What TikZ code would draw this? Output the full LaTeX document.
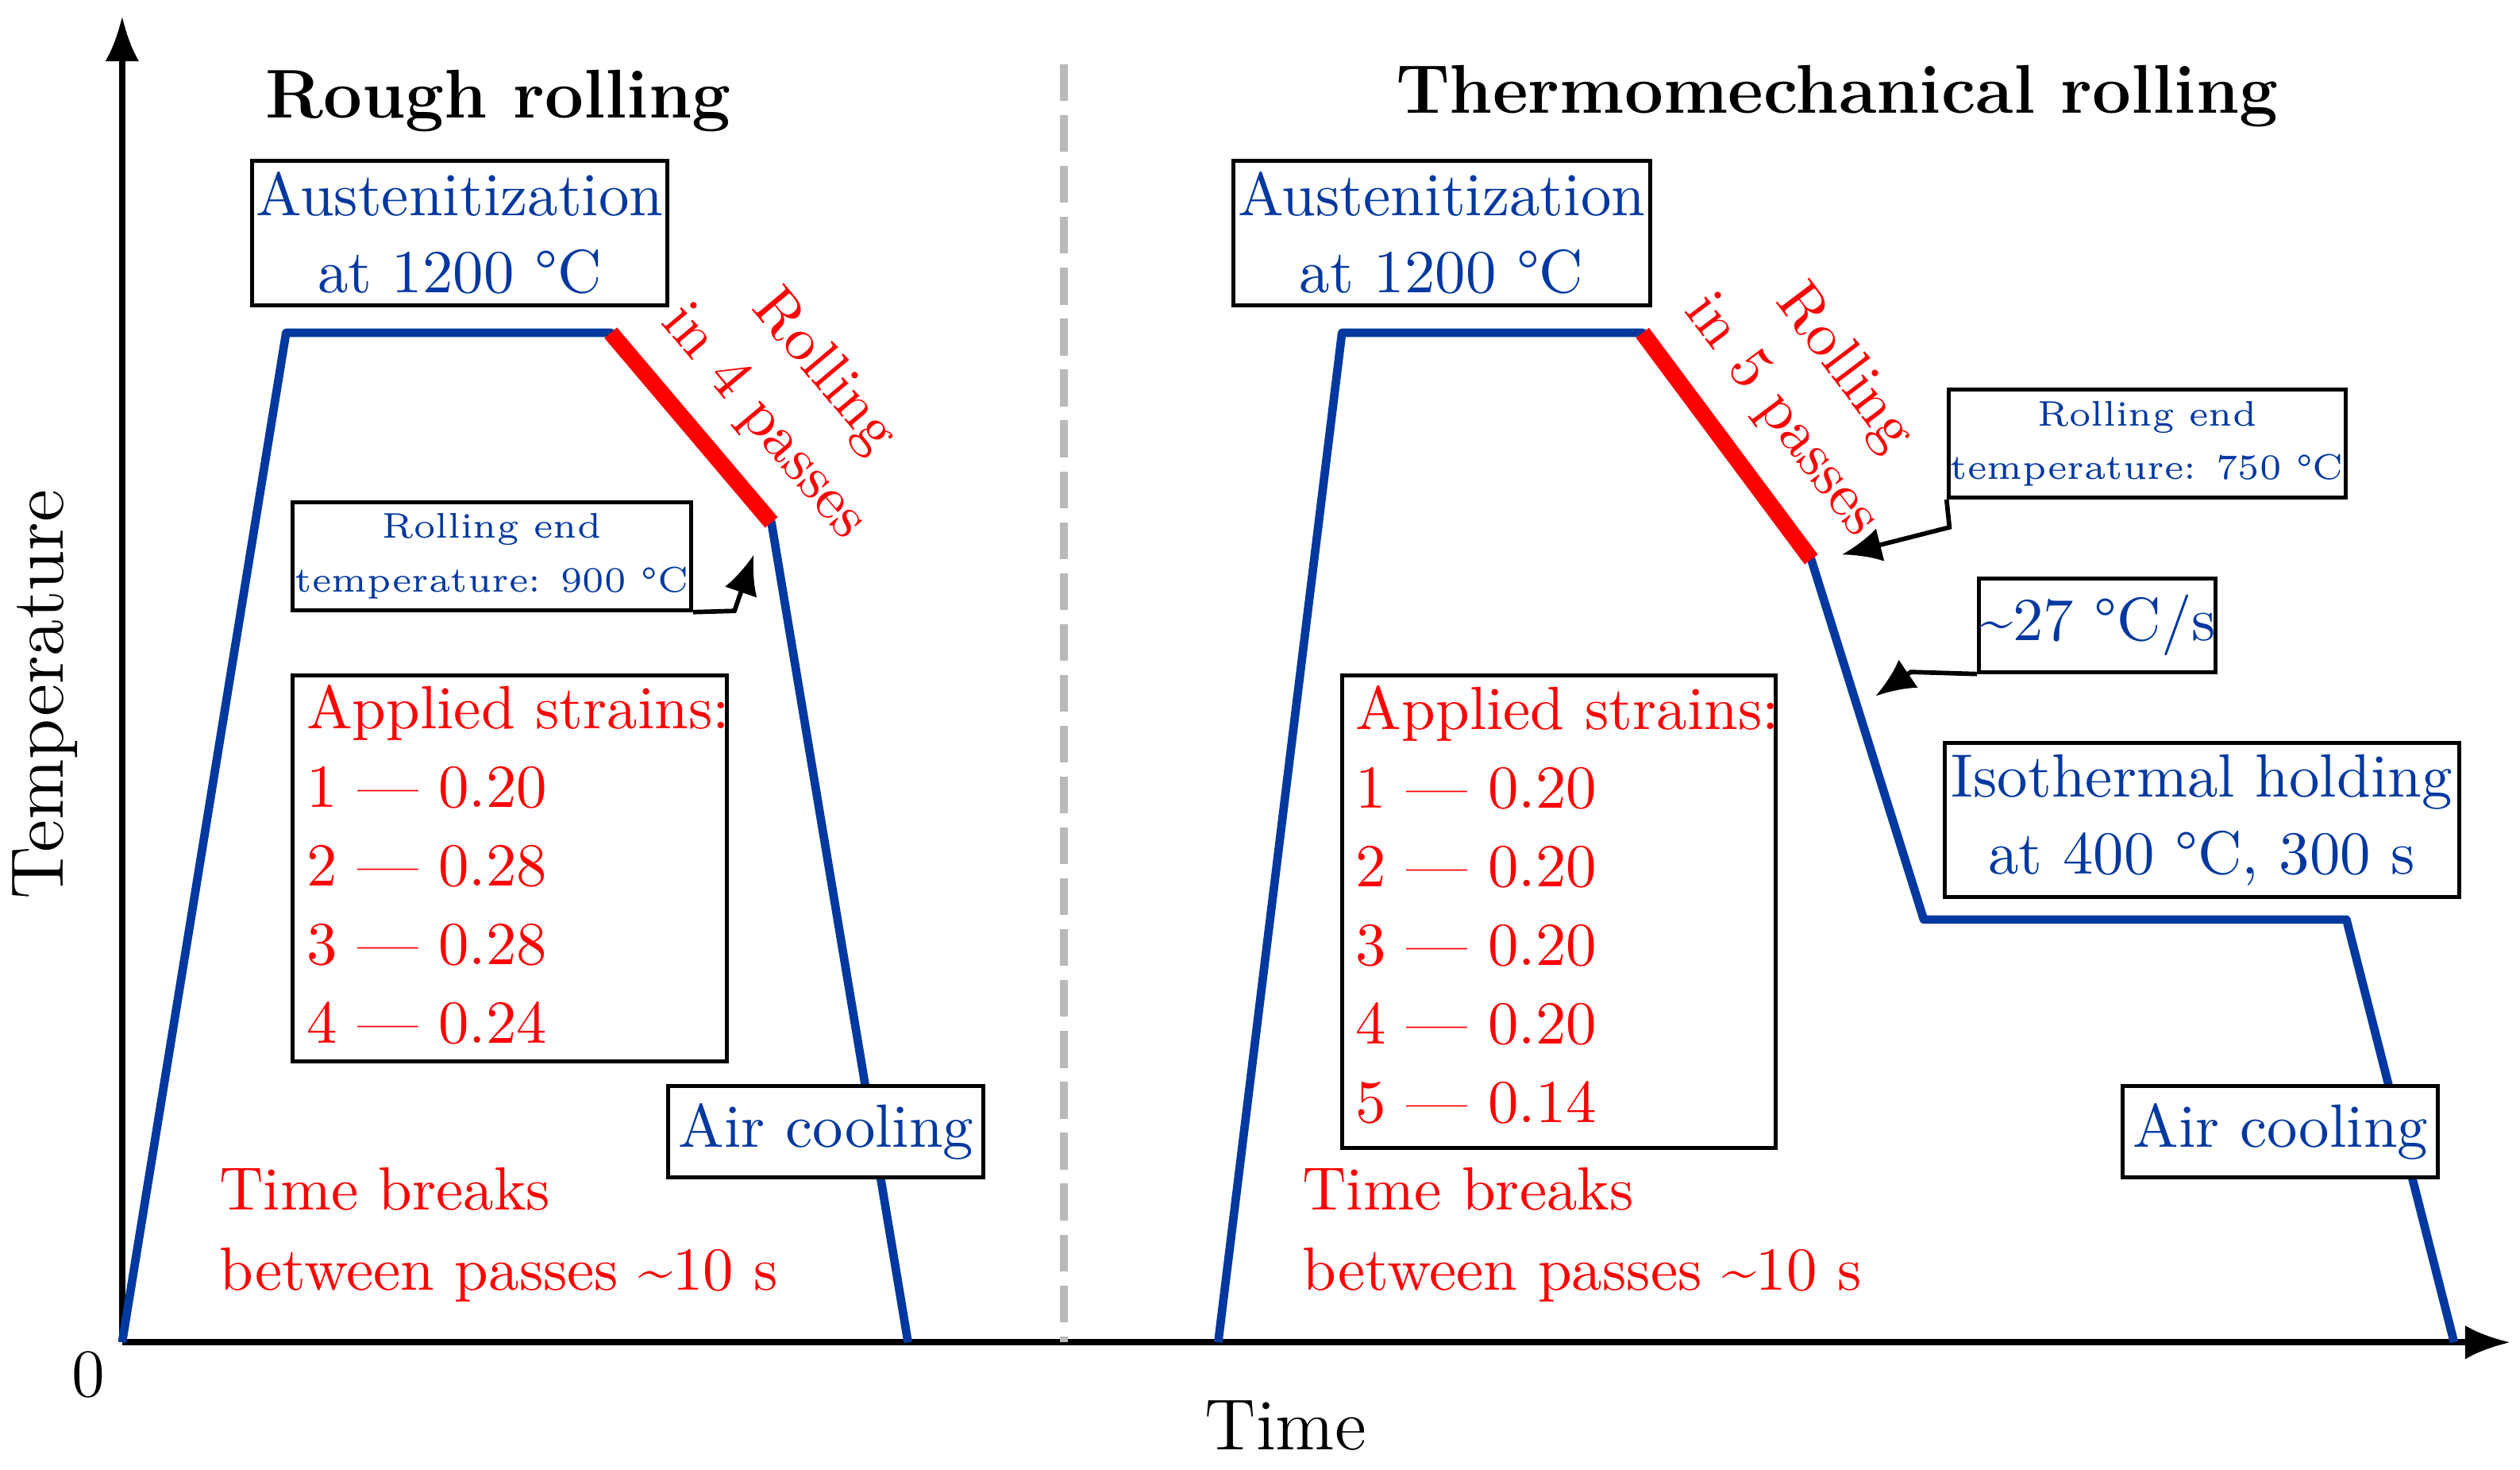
\documentclass[tikz,border=0pt]{standalone}
\usetikzlibrary{arrows.meta}
\definecolor{myblue}{RGB}{0,56,160}
\definecolor{myred}{RGB}{255,0,0}
\begin{document}
\begin{tikzpicture}[x=0.01cm,y=-0.01cm,
  box/.style={draw=black,line width=0.7pt,fill=white,inner sep=0pt},
  bt/.style={text=myblue,font=\fontsize{10.8}{13.6}\selectfont,align=center},
  st/.style={text=myblue,font=\fontsize{6.3}{9.5}\selectfont,align=center},
  rt/.style={text=myred,font=\fontsize{10.8}{13.9}\selectfont},
  curve/.style={draw=myblue,line width=1.5pt,line join=round},
  roll/.style={draw=myred,line width=2.9pt},
  ptr/.style={draw=black,line width=0.8pt,-{Latex[length=7pt,width=6pt]}},
  title/.style={font=\bfseries\fontsize{12.2}{15}\selectfont}]
\useasboundingbox (0,0) rectangle (1568,914);
% axes
\coordinate (O) at (76,835);
\coordinate (Ytop) at (76,10);
\coordinate (Xend) at (1562,835);
\draw[line width=1.1pt,-{Latex[length=8pt,width=6pt]}] (O) -- (Ytop);
\draw[line width=1.1pt,-{Latex[length=8pt,width=6pt]}] (O) -- (Xend);
\node (zero) at (55,855) {\fontsize{12}{14}\selectfont 0};
\node[rotate=90] (temp) at (28,432) {\fontsize{13.2}{16}\selectfont Temperature};
\node (time) at (800,887) {\fontsize{12.8}{16}\selectfont Time};
% divider
\coordinate (d1) at (662,40); \coordinate (d2) at (662,835);
\draw[gray!55,line width=1.4pt,dash pattern=on 6.5pt off 2.5pt] (d1) -- (d2);
% titles
\node[title] (t1) at (310,63) {Rough rolling};
\node[title] (t2) at (1143,60) {Thermomechanical rolling};
% left curve
\coordinate (a0) at (76,835); \coordinate (a1) at (178,207); \coordinate (a2) at (380,207);
\coordinate (a3) at (480,325); \coordinate (a4) at (565,835);
\draw[curve] (a0) -- (a1) -- (a2) -- (a3) -- (a4);
\draw[roll] (a2) -- (a3);
% right curve
\coordinate (b0) at (758,835); \coordinate (b1) at (835,207); \coordinate (b2) at (1022,207);
\coordinate (b3) at (1127,348); \coordinate (b4) at (1197,572); \coordinate (b5) at (1460,572);
\coordinate (b6) at (1527,835);
\draw[curve] (b0) -- (b1) -- (b2) -- (b3) -- (b4) -- (b5) -- (b6);
\draw[roll] (b2) -- (b3);
% rolling labels
\node[rt,align=center,rotate=-50] (r1) at (494,247) {Rolling\\in 4 passes};
\node[rt,align=center,rotate=-53] (r2) at (1128,244) {Rolling\\in 5 passes};
% austenitization boxes
\node[box,bt,minimum width=2.58cm,minimum height=0.9cm] (aus1) at (286,145) {Austenitization\\at 1200 °C};
\node[box,bt,minimum width=2.59cm,minimum height=0.9cm] (aus2) at (897,145) {Austenitization\\at 1200 °C};
% rolling end boxes
\node[box,st,minimum width=2.48cm,minimum height=0.67cm] (re1) at (306,346) {Rolling end\\temperature: 900 °C};
\node[box,st,minimum width=2.47cm,minimum height=0.67cm] (re2) at (1336,276) {Rolling end\\temperature: 750 °C};
\coordinate (p1) at (457,380); \coordinate (p1t) at (469,345);
\draw[ptr] (re1.south east) -- (p1) -- (p1t);
\coordinate (p2) at (1213,328); \coordinate (p2t) at (1146,345);
\draw[ptr] (re2.south west) -- (p2) -- (p2t);
% rate box
\node[box,bt,minimum width=1.46cm,minimum height=0.58cm] (rate) at (1305,389) {\textasciitilde27 °C/s};
\coordinate (p3) at (1189,418); \coordinate (p3t) at (1167,433);
\draw[ptr] (rate.south west) -- (p3) -- (p3t);
% isothermal
\node[box,bt,minimum width=3.2cm,minimum height=0.96cm] (iso) at (1370,510) {Isothermal holding\\at 400 °C, 300 s};
% strains
\node[box,minimum width=2.7cm,minimum height=2.4cm] (s1) at (317,540) {};
\node[rt,align=left,anchor=west,inner sep=0pt] (s1t) at (190,538) {Applied strains:\\1 --- 0.20\\2 --- 0.28\\3 --- 0.28\\4 --- 0.24};
\node[box,minimum width=2.7cm,minimum height=2.94cm] (s2) at (970,567) {};
\node[rt,align=left,anchor=west,inner sep=0pt] (s2t) at (843,563) {Applied strains:\\1 --- 0.20\\2 --- 0.20\\3 --- 0.20\\4 --- 0.20\\5 --- 0.14};
% air cooling
\node[box,bt,minimum width=1.96cm,minimum height=0.57cm] (ac1) at (514,704) {Air cooling};
\node[box,bt,minimum width=1.96cm,minimum height=0.57cm] (ac2) at (1419,704) {Air cooling};
% time breaks
\node[rt,align=left,anchor=west,font=\fontsize{10.8}{14.2}\selectfont] (tb1) at (124,768) {Time breaks\\between passes \textasciitilde10 s};
\node[rt,align=left,anchor=west,font=\fontsize{10.8}{14.2}\selectfont] (tb2) at (798,768) {Time breaks\\between passes \textasciitilde10 s};
\end{tikzpicture}
\end{document}
